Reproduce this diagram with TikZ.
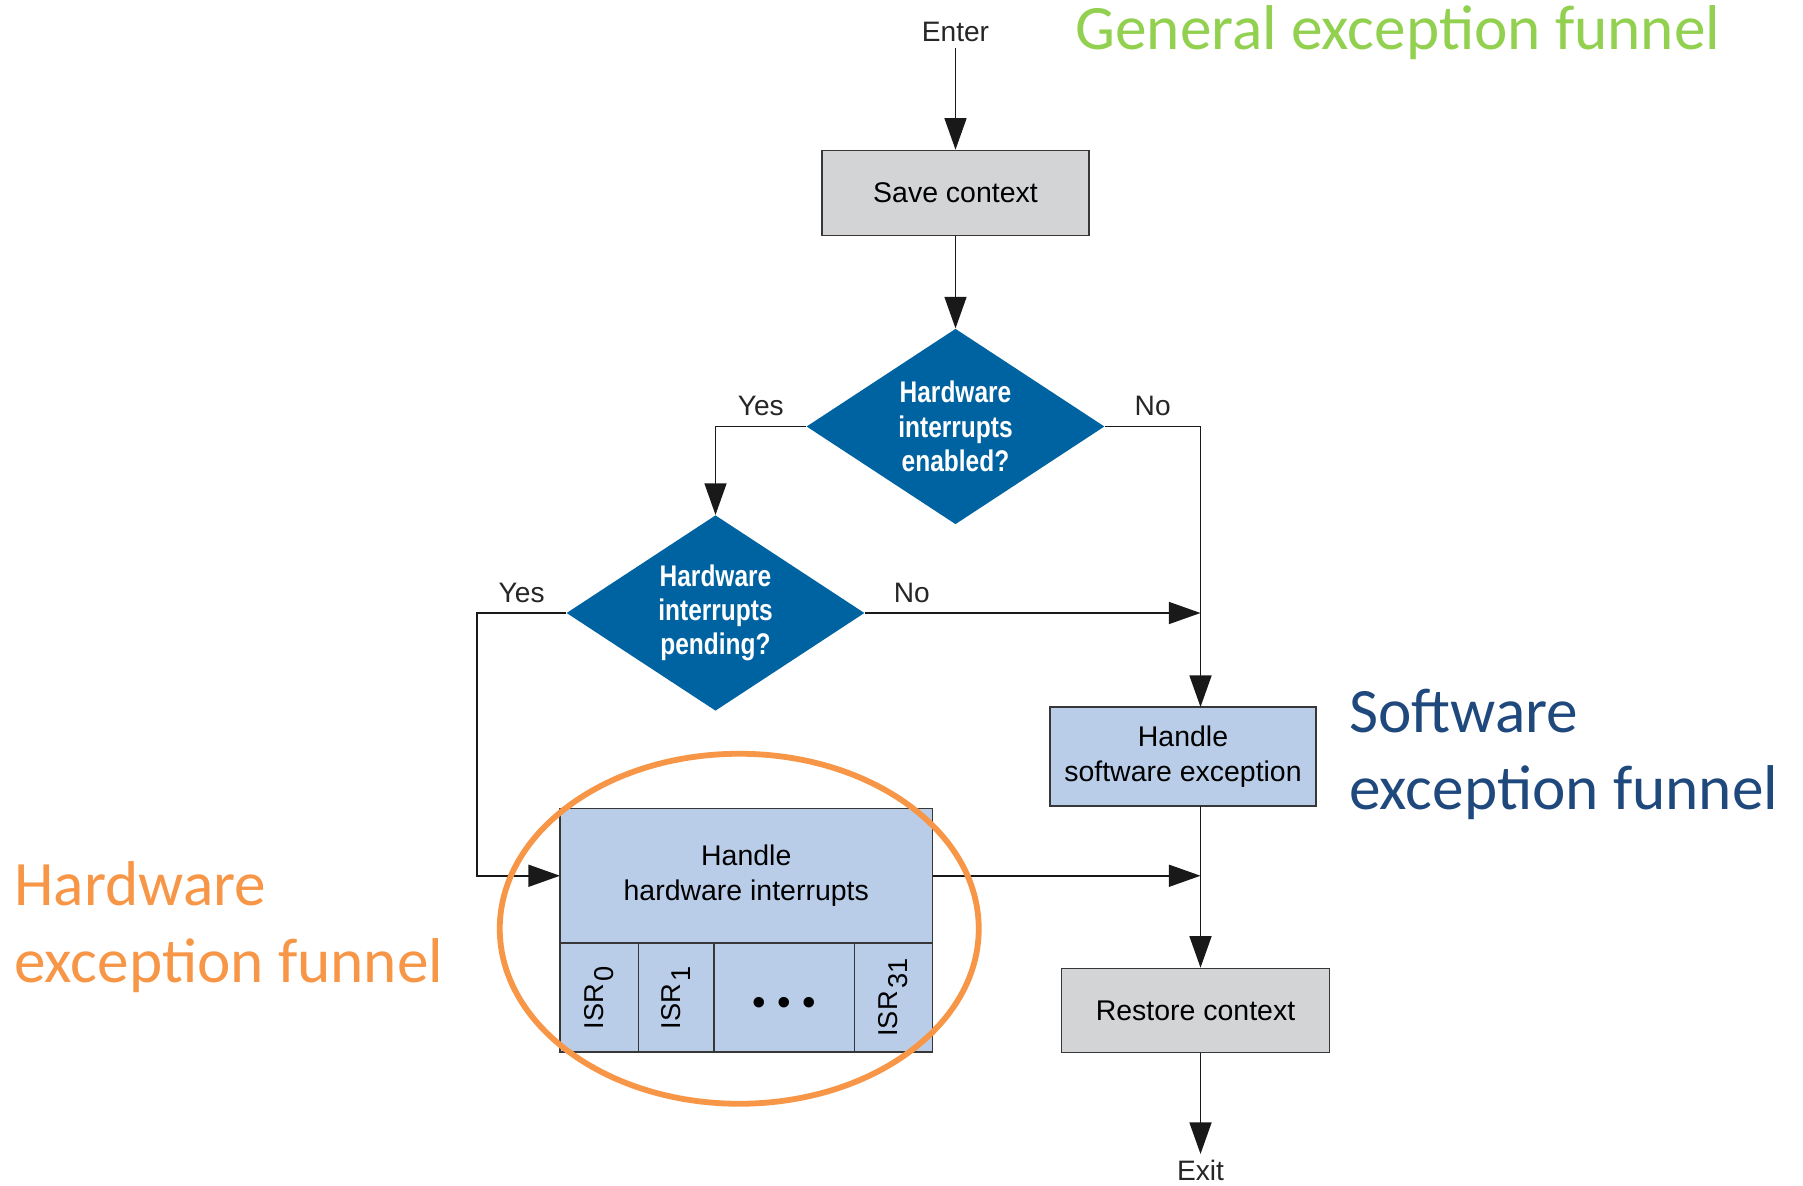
\documentclass[tikz,border=0pt]{standalone}
\usepackage{fontspec}
\setmainfont{Liberation Sans}
\newfontfamily\condfont[FakeStretch=0.82]{Liberation Sans}
\newfontfamily\calibfont{Carlito}
\usepackage{graphicx}
\usepackage{tikz}
\usetikzlibrary{shapes.geometric, arrows.meta, positioning}
\usepackage{xcolor}
\definecolor{ctxgray}{RGB}{211,212,214}
\definecolor{hwblue}{RGB}{185,205,233}
\definecolor{qblue}{RGB}{0,99,161}
\definecolor{hwfun}{RGB}{247,150,70}
\definecolor{swfun}{RGB}{31,73,125}
\definecolor{genfun}{RGB}{146,208,80}
\definecolor{edge}{RGB}{55,55,55}
\newcommand\isrsub[1]{\hspace{0.1em}\raisebox{-0.7ex}{#1}}
\tikzstyle{context} = [rectangle, minimum width=5.34cm, minimum height=1.7cm, text centered, draw=edge, fill=ctxgray, line width=0.9pt, font=\fontsize{16.2}{20}\selectfont]
\tikzstyle{handler} = [rectangle, text centered, align=center, draw=edge, fill=hwblue, line width=0.9pt, inner sep=0pt, outer sep=0pt, font=\fontsize{16.2}{20.2}\selectfont]
\tikzstyle{isr} = [handler, minimum height=2.18cm, font=\fontsize{15.5}{18}\selectfont]
\tikzstyle{decision} = [diamond, aspect=1.52, inner sep=0pt, minimum width=5.96cm, minimum height=3.91cm, text centered, align=center, fill=qblue, text=white, font=\condfont\bfseries\fontsize{17}{19.5}\selectfont]
\tikzstyle{tag} = [text=black!85, font=\fontsize{16}{19}\selectfont]
\tikzstyle{funnel} = [align=left, inner sep=0pt, font=\calibfont\fontsize{36}{44}\selectfont]
\tikzstyle{arrow} = [line width=1pt, draw=black!90, -{Triangle[length=18pt,width=12.5pt]}]

\begin{document}
\begin{tikzpicture}[node distance=4cm]
\fill[white] (0,0) rectangle (36.06,-23.70);
\useasboundingbox (0,0) rectangle (36.06,-23.70);

% Nodes
\node (enter) [tag] at (19.11,-0.64) {Enter};
\node (save) [context, below of=enter, yshift=0.78cm] {Save context};
\node (enabled) [decision, below of=save, yshift=-0.67cm] {Hardware\\interrupts\\enabled?};
\node (pending) [decision, below of=enabled, xshift=-4.8cm, yshift=0.27cm] {Hardware\\interrupts\\pending?};
\node (software) [handler, minimum width=5.31cm, minimum height=1.98cm, below of=enabled, xshift=4.55cm, yshift=-2.6cm] {Handle\\software exception};
\node (hardware) [handler, minimum width=7.45cm, minimum height=2.69cm, below of=pending, xshift=0.615cm, yshift=-1.255cm] {Handle\\hardware interrupts};
\node (isr0) [isr, minimum width=1.57cm, anchor=north west] at (hardware.south west) {\rotatebox{90}{ISR\isrsub{0}}};
\node (isr1) [isr, minimum width=1.51cm, right=0pt of isr0] {\rotatebox{90}{ISR\isrsub{1}}};
\node (isrdots) [isr, minimum width=2.81cm, right=0pt of isr1] {\raisebox{-10pt}[0pt][0pt]{\fontsize{22}{22}\selectfont\textbullet\hspace{0.3em}\textbullet\hspace{0.3em}\textbullet}};
\node (isr31) [isr, minimum width=1.56cm, right=0pt of isrdots] {\rotatebox{90}{ISR\isrsub{31}}};
\node (restore) [context, minimum width=5.36cm, minimum height=1.68cm, below of=software, xshift=0.25cm, yshift=-1.08cm] {Restore context};
\node (exit) [tag, below of=restore, xshift=0.1cm, yshift=0.8cm] {Exit};
\coordinate (col) at ([xshift=0.35cm]software.north);

% Funnel labels
\node (genlabel) [funnel, text=genfun, anchor=west] at (21.5,-0.66) {General exception funnel};
\node (swlabel) [funnel, text=swfun, anchor=west] at (26.98,-15.09) {Software\\exception funnel};
\node (hwlabel) [funnel, text=hwfun, anchor=west] at (0.28,-18.54) {Hardware\\exception funnel};

% Arrows
\draw [arrow] (enter) -- (save);
\draw [arrow] (save) -- (enabled);
\draw [arrow] (enabled.west) -| node[tag, pos=0.25, above, yshift=2pt] {Yes} (pending.north);
\draw [arrow] (enabled.east) -| node[tag, pos=0.25, above, yshift=2pt] {No} (col);
\draw [arrow] (pending.east) -- node[tag, pos=0.14, above, yshift=2pt] {No} (pending.east -| col);
\draw [arrow] (pending.west) -- node[tag, above, yshift=2pt] {Yes} ([xshift=-1.78cm]pending.west) |- (hardware.west);
\draw [arrow] (hardware.east) -- (hardware.east -| col);
\draw [arrow] (software.south -| col) -- (restore.north -| col);
\draw [arrow] (restore.south -| exit) -- (exit);

% Hardware funnel ring
\draw [hwfun, line width=3.3pt] ([xshift=-0.14cm, yshift=-1.06cm]hardware.center) ellipse (4.79cm and 3.5cm);

\end{tikzpicture}
\end{document}
